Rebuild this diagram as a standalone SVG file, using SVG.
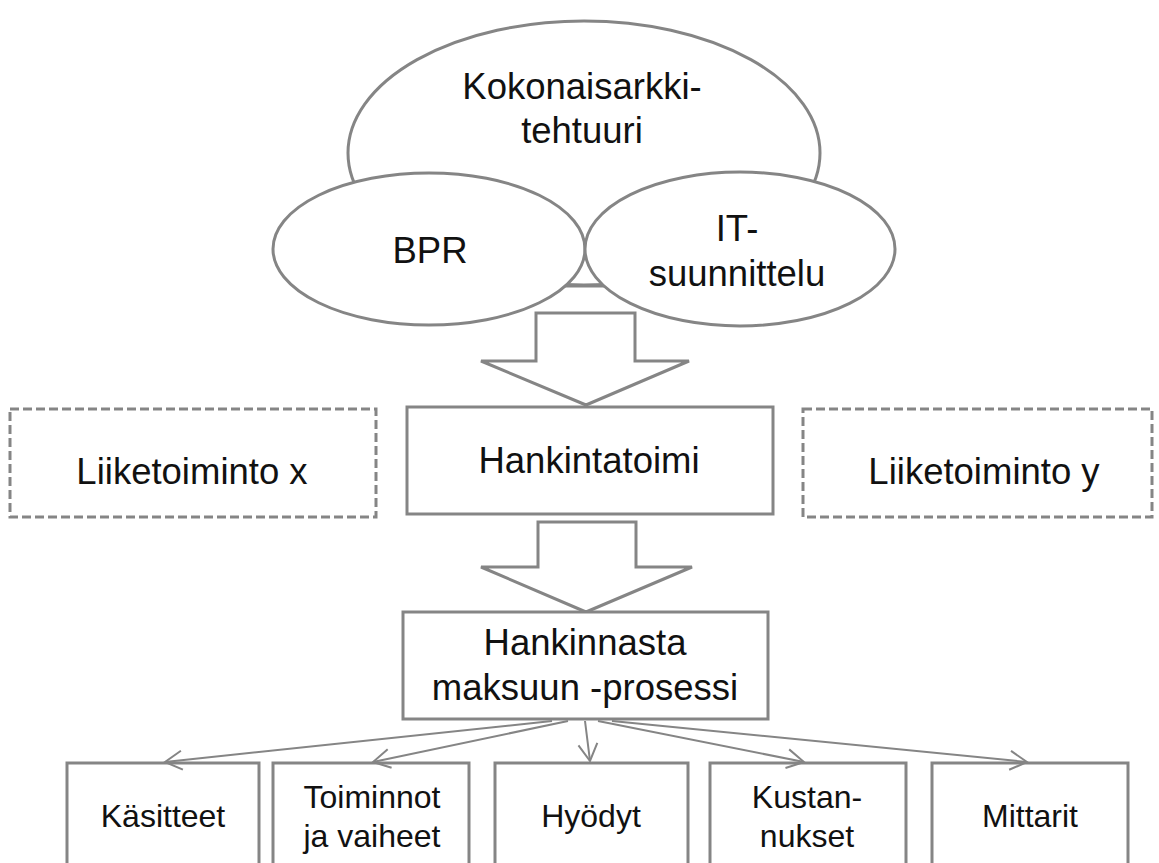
<svg xmlns="http://www.w3.org/2000/svg" width="1159" height="863" viewBox="0 0 1159 863">
  <defs>
    <style>
      .shape { fill: #ffffff; stroke: #858585; stroke-width: 3; }
      .dash { fill: #ffffff; stroke: #858585; stroke-width: 3; stroke-dasharray: 9 4; }
      .big { font-family: "Liberation Sans", Arial, sans-serif; font-size: 36.5px; fill: #111111; text-anchor: middle; }
      .small { font-family: "Liberation Sans", Arial, sans-serif; font-size: 32px; fill: #111111; text-anchor: middle; }
      .conn { fill: none; stroke: #858585; stroke-width: 2; marker-end: url(#open); }
    </style>
    <marker id="open" markerUnits="userSpaceOnUse" markerWidth="24" markerHeight="24" viewBox="0 0 24 24" refX="20" refY="11" orient="auto">
      <path d="M3,1.5 L20,11 L3,20.5" fill="none" stroke="#858585" stroke-width="2"/>
    </marker>
  </defs>

  <!-- Enterprise architecture umbrella -->
  <g id="kokonaisarkkitehtuuri">
    <ellipse class="shape" cx="584" cy="153" rx="236" ry="132"/>
    <text class="big" x="582" y="99">Kokonaisarkki-</text>
    <text class="big" x="582" y="143">tehtuuri</text>
  </g>

  <!-- edge peeking out between the two lower ellipses -->
  <line x1="565" y1="286" x2="604" y2="286" stroke="#858585" stroke-width="3"/>

  <g id="bpr">
    <ellipse class="shape" cx="429" cy="249" rx="156" ry="76"/>
    <text class="big" x="430" y="263">BPR</text>
  </g>

  <g id="it-suunnittelu">
    <ellipse class="shape" cx="740" cy="249" rx="155" ry="77"/>
    <text class="big" x="737" y="241">IT-</text>
    <text class="big" x="737" y="286">suunnittelu</text>
  </g>

  <!-- block arrows -->
  <g id="block-arrow-1">
    <polygon class="shape" points="536,313 635,313 635,361 689,361 586,405 481,361 536,361"/>
  </g>

  <g id="liiketoiminto-x">
    <rect class="dash" x="10" y="409" width="366" height="108"/>
    <text class="big" x="192" y="484">Liiketoiminto x</text>
  </g>

  <g id="hankintatoimi">
    <rect class="shape" x="407" y="407" width="366" height="107"/>
    <text class="big" x="589" y="473">Hankintatoimi</text>
  </g>

  <g id="liiketoiminto-y">
    <rect class="dash" x="803" y="409" width="349" height="108"/>
    <text class="big" x="984" y="484">Liiketoiminto y</text>
  </g>

  <g id="block-arrow-2">
    <polygon class="shape" points="538,522 636,522 636,567 692,567 586,612 481,567 538,567"/>
  </g>

  <g id="hankinnasta-maksuun">
    <rect class="shape" x="403" y="612" width="365" height="107"/>
    <text class="big" x="585" y="655">Hankinnasta</text>
    <text class="big" x="585" y="700">maksuun -prosessi</text>
  </g>

  <!-- bottom row -->
  <g id="kasitteet">
    <rect class="shape" x="67" y="763" width="192" height="120"/>
    <text class="small" x="163" y="827">Käsitteet</text>
  </g>
  <g id="toiminnot">
    <rect class="shape" x="273" y="763" width="196" height="120"/>
    <text class="small" x="372" y="808">Toiminnot</text>
    <text class="small" x="372" y="847">ja vaiheet</text>
  </g>
  <g id="hyodyt">
    <rect class="shape" x="495" y="763" width="193" height="120"/>
    <text class="small" x="591" y="827">Hyödyt</text>
  </g>
  <g id="kustannukset">
    <rect class="shape" x="710" y="763" width="196" height="120"/>
    <text class="small" x="807" y="808">Kustan-</text>
    <text class="small" x="807" y="847">nukset</text>
  </g>
  <g id="mittarit">
    <rect class="shape" x="932" y="763" width="196" height="120"/>
    <text class="small" x="1030" y="827">Mittarit</text>
  </g>

  <!-- connectors -->
  <g id="connectors">
    <line class="conn" x1="552" y1="721" x2="165" y2="762"/>
    <line class="conn" x1="568" y1="721" x2="373" y2="762"/>
    <line class="conn" x1="585" y1="721" x2="590" y2="761"/>
    <line class="conn" x1="598" y1="721" x2="804" y2="762"/>
    <line class="conn" x1="612" y1="721" x2="1027" y2="762"/>
  </g>
</svg>
